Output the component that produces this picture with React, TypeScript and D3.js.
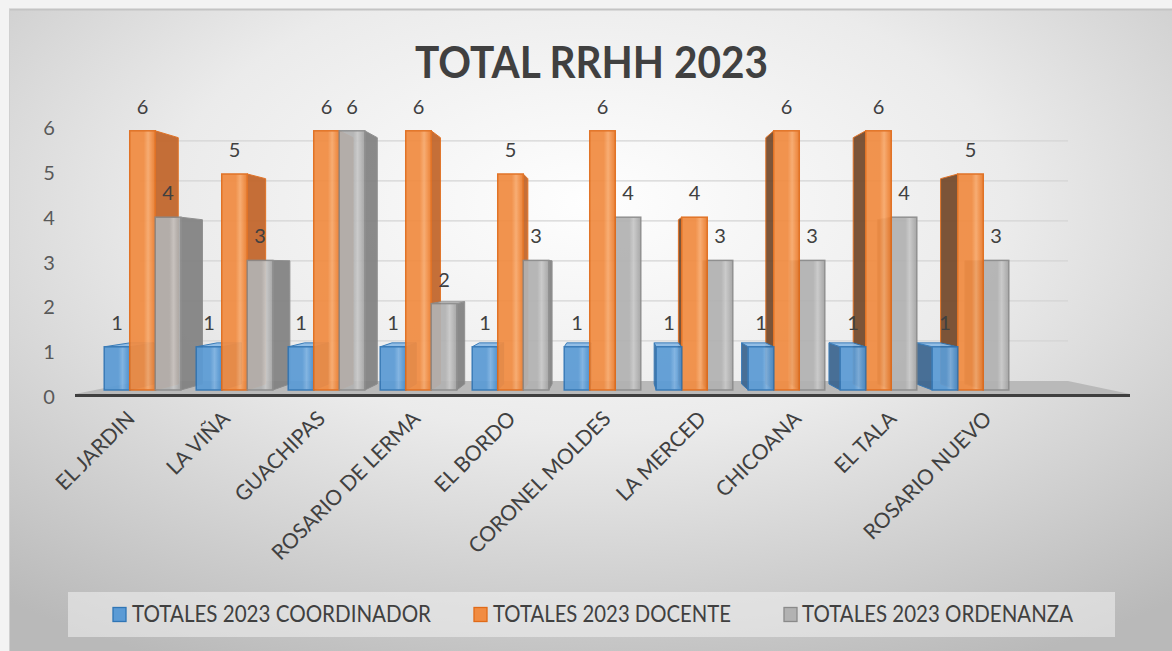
import React from 'react';
import * as d3 from 'd3';

// ---------- data ----------
const title = 'TOTAL RRHH 2023';
const categories = [
  'EL JARDIN', 'LA VIÑA', 'GUACHIPAS', 'ROSARIO DE LERMA', 'EL BORDO',
  'CORONEL MOLDES', 'LA MERCED', 'CHICOANA', 'EL TALA', 'ROSARIO NUEVO',
];
const seriesNames = ['TOTALES 2023 COORDINADOR', 'TOTALES 2023 DOCENTE', 'TOTALES 2023 ORDENANZA'];
const coordinador = [1, 1, 1, 1, 1, 1, 1, 1, 1, 1];
const docente = [6, 5, 6, 6, 5, 6, 4, 6, 6, 5];
const ordenanza = [4, 3, 6, 2, 3, 4, 3, 3, 4, 3];
const yTicks = [0, 1, 2, 3, 4, 5, 6];

// ---------- styles ----------
const palette = [
  { base: '#5b9bd5', light: '#7cb1e1', dark: '#4e8cc7', stroke: '#2f75b5', sideR: '#4778a8', sideL: '#3c6690', top: '#8cbbe6' },
  { base: '#f18c42', light: '#f8a86a', dark: '#e77a2c', stroke: '#e06a18', sideR: '#c2652a', sideL: '#74492b', top: '#f6a86e' },
  { base: '#b2b2b2', light: '#c8c8c8', dark: '#a2a2a2', stroke: '#8a8a8a', sideR: '#828282', sideL: '#5c5c5c', top: '#c9c9c9' },
];
const FONT = "Lato, 'Open Sans', sans-serif";
const W = 1172;
const H = 651;

// ---------- layout ----------
const vp = { x: 615, y: 268 };
const kBar = 0.05;
const kWall = 0.074;
const floorFront = { y: 394, x0: 75, x1: 1130 };
const floorBack = { x0: 140, x1: 1068 };
const legendBox = { x: 68, y: 592, w: 1047, h: 45 };
const legendItems = [
  { sq: 113, tx: 132, len: 299 },
  { sq: 474, tx: 493, len: 238 },
  { sq: 784, tx: 802, len: 271 },
];

const values = [coordinador, docente, ordenanza];

const x0 = d3.scaleBand<string>().domain(categories).range([96.5, 1016.5]).paddingInner(0.168).paddingOuter(0.084);
const x1 = d3.scaleBand<number>().domain([0, 1, 2]).range([0, x0.bandwidth()]);
const y = d3.scaleLinear().domain([0, 6]).range([390, 130.8]);
const yTick = d3.scaleLinear().domain([0, 6]).range([397, 128]);
const xLabel = d3.scalePoint<string>().domain(categories).range([136, 993]);

const proj = (px: number, py: number, k: number): [number, number] => [px + k * (vp.x - px), py + k * (vp.y - py)];
const pts = (arr: [number, number][]) => arr.map((p) => p.join(',')).join(' ');

type Bar = { ci: number; si: number; v: number; xa: number; xb: number; yt: number; yb: number };

export default function App() {
  const bars: Bar[] = [];
  categories.forEach((c, ci) => {
    values.forEach((vals, si) => {
      const xa = (x0(c) as number) + (x1(si) as number);
      bars.push({ ci, si, v: vals[ci], xa, xb: xa + x1.bandwidth(), yt: y(vals[ci]), yb: y(0) });
    });
  });
  const order = [...bars].sort(
    (a, b) => Math.abs((b.xa + b.xb) / 2 - vp.x) - Math.abs((a.xa + a.xb) / 2 - vp.x)
  );

  const wallY = (v: number) => y(v) + kWall * (vp.y - y(v));

  return (
    <svg width={W} height={H} style={{ position: 'absolute', left: 0, top: 0, display: 'block' }}>
      <defs>
        <radialGradient id="bg" cx="0.5" cy="0.3" r="0.8">
          <stop offset="0" stopColor="#fefefe" />
          <stop offset="0.45" stopColor="#ebebeb" />
          <stop offset="1" stopColor="#b9b9b9" />
        </radialGradient>
        {palette.map((p, i) => (
          <linearGradient key={i} id={`front${i}`} x1="0" y1="0" x2="1" y2="0">
            <stop offset="0" stopColor={p.base} />
            <stop offset="0.55" stopColor={p.base} />
            <stop offset="0.72" stopColor={p.light} />
            <stop offset="0.88" stopColor={p.base} />
            <stop offset="1" stopColor={p.dark} />
          </linearGradient>
        ))}
      </defs>

      {/* page + chart background */}
      <rect x={0} y={0} width={W} height={H} fill="#f3f3f3" />
      <rect x={9} y={9} width={W - 9} height={H - 9} fill="url(#bg)" />
      <line x1={9} y1={9.5} x2={W} y2={9.5} stroke="#c4c4c4" strokeWidth={2} />
      <line x1={9.5} y1={9} x2={9.5} y2={H} stroke="#d0d0d0" strokeWidth={1} />

      {/* title */}
      <text x={591.5} y={78} textAnchor="middle" fontFamily={FONT} fontWeight={700} fontSize={43}
        fill="#404040" textLength={353} lengthAdjust="spacingAndGlyphs">{title}</text>

      {/* back wall gridlines */}
      {yTicks.filter((v) => v > 0).map((v) => (
        <line key={v} x1={floorBack.x0} x2={floorBack.x1} y1={wallY(v)} y2={wallY(v)} stroke="#d4d4d4" strokeWidth={1.3} />
      ))}

      {/* floor */}
      <polygon
        points={pts([
          [floorFront.x0, floorFront.y],
          [floorFront.x1, floorFront.y],
          [floorBack.x1, wallY(0)],
          [floorBack.x0, wallY(0)],
        ])}
        fill="#b9b9b9"
      />
      <line x1={floorFront.x0} x2={floorFront.x1} y1={floorFront.y + 1.5} y2={floorFront.y + 1.5} stroke="#3f3f3f" strokeWidth={3} />

      {/* bars */}
      {order.map((b) => {
        const p = palette[b.si];
        const tl = proj(b.xa, b.yt, kBar);
        const tr = proj(b.xb, b.yt, kBar);
        const bl = proj(b.xa, b.yb, kBar);
        const br = proj(b.xb, b.yb, kBar);
        const key = `${b.ci}-${b.si}`;
        const sideRight = b.xb < vp.x - 1;
        const sideLeft = b.xa > vp.x + 1;
        return (
          <g key={key} opacity={0.93}>
            {sideRight && (
              <polygon points={pts([[b.xb, b.yt], tr, br, [b.xb, b.yb]])} fill={p.sideR} stroke={p.stroke} strokeWidth={1} strokeLinejoin="round" />
            )}
            {sideLeft && (
              <polygon points={pts([[b.xa, b.yt], tl, bl, [b.xa, b.yb]])} fill={p.sideL} stroke={p.stroke} strokeWidth={1} strokeLinejoin="round" />
            )}
            {b.yt > vp.y && (
              <polygon points={pts([[b.xa, b.yt], [b.xb, b.yt], tr, tl])} fill={p.top} stroke={p.stroke} strokeWidth={1} strokeLinejoin="round" />
            )}
            <rect x={b.xa} y={b.yt} width={b.xb - b.xa} height={b.yb - b.yt} fill={`url(#front${b.si})`} stroke={p.stroke} strokeWidth={1.5} />
          </g>
        );
      })}

      {/* data labels */}
      {bars.map((b) => (
        <text key={`l${b.ci}-${b.si}`} x={(b.xa + b.xb) / 2} y={b.yt - 17} textAnchor="middle" fontFamily={FONT}
          fontSize={20} fill="#404040">{b.v}</text>
      ))}

      {/* y tick labels */}
      {yTicks.map((v) => (
        <text key={`t${v}`} x={49} y={yTick(v) + 7} textAnchor="middle" fontFamily={FONT} fontSize={20} fill="#595959">{v}</text>
      ))}

      {/* category labels */}
      {categories.map((c) => (
        <text key={`c${c}`} transform={`translate(${xLabel(c)},420) rotate(-45)`} textAnchor="end" fontFamily={FONT}
          fontSize={21} fill="#404040">{c}</text>
      ))}

      {/* legend */}
      <rect x={legendBox.x} y={legendBox.y} width={legendBox.w} height={legendBox.h} fill="#f2f2f2" opacity={0.55} />
      {seriesNames.map((s, i) => (
        <g key={s}>
          <rect x={legendItems[i].sq} y={607.5} width={13} height={14} fill={palette[i].base} stroke={palette[i].stroke} strokeWidth={1.3} />
          <text x={legendItems[i].tx} y={622} fontFamily={FONT} fontSize={23} fill="#404040"
            textLength={legendItems[i].len} lengthAdjust="spacingAndGlyphs">{s}</text>
        </g>
      ))}
    </svg>
  );
}
